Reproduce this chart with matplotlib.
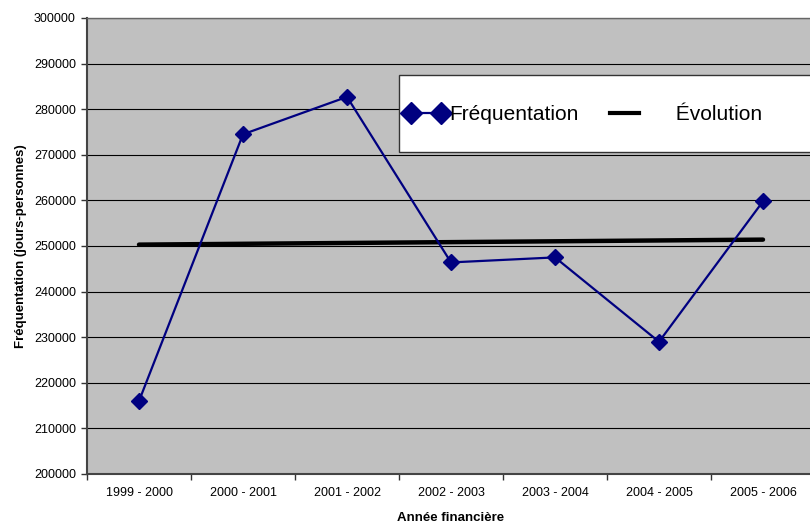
import matplotlib.pyplot as plt
from matplotlib.lines import Line2D
from matplotlib.patches import Rectangle

plt.rcParams['font.family'] = ['Liberation Sans', 'DejaVu Sans']

# Données
annees = ["1999 - 2000", "2000 - 2001", "2001 - 2002", "2002 - 2003",
          "2003 - 2004", "2004 - 2005", "2005 - 2006"]
frequentation = [216000, 274500, 282700, 246400, 247500, 229000, 259800]
evolution_debut_fin = [250300, 251400]   # courbe de tendance
y_ticks = list(range(200000, 300001, 10000))

fig = plt.figure(figsize=(8.1, 5.23), dpi=100)
ax = fig.add_axes([87 / 810, 1 - 474 / 523, 728 / 810, 456 / 523])
ax.set_facecolor('#c0c0c0')

x = list(range(len(annees)))
ax.plot(x, frequentation, color='#000080', lw=1.6, marker='D', markersize=8,
        markerfacecolor='#000080', markeredgecolor='#000080', zorder=3)
ax.plot([x[0], x[-1]], evolution_debut_fin, color='black', lw=3.2,
        solid_capstyle='round', zorder=2)

ax.set_xlim(-0.5, len(annees) - 0.5)
ax.set_ylim(200000, 300000)
ax.set_yticks(y_ticks)
ax.set_yticklabels([str(v) for v in y_ticks], fontsize=9)
ax.yaxis.grid(True, color='black', lw=0.8)
ax.set_axisbelow(True)

# ticks entre les catégories
ax.set_xticks([i - 0.5 for i in range(len(annees) + 1)])
ax.set_xticklabels([])
ax.set_xticks(x, minor=True)
ax.set_xticklabels(annees, minor=True, fontsize=9)
ax.tick_params(axis='x', which='minor', length=0, pad=9)
ax.tick_params(axis='x', which='major', length=4, width=1, color='#333333', direction='out')
ax.tick_params(axis='y', length=4, width=1, color='#333333', pad=4)

for side in ['left', 'bottom']:
    ax.spines[side].set_color('#444444')
    ax.spines[side].set_linewidth(1.5)
ax.spines['top'].set_color('#666666')
ax.spines['top'].set_linewidth(1)
ax.spines['right'].set_visible(False)

ax.set_xlabel('Année financière', fontsize=9.5, fontweight='bold', labelpad=10)
ax.set_ylabel('Fréquentation (jours-personnes)', fontsize=9.5, fontweight='bold', labelpad=5)

# cadre de la légende (déborde à droite comme l'original)
fig.patches.append(Rectangle((399 / 810, 1 - 152 / 523), 420 / 810, 77 / 523,
                             transform=fig.transFigure, facecolor='white',
                             edgecolor='#333333', lw=1, zorder=5))

handles = [
    Line2D([], [], color='#000080', lw=1.6, marker='D', markersize=11),
    Line2D([], [], color='black', lw=3),
]
leg = fig.legend(handles, ['Fréquentation', '     Évolution'], ncol=2,
                 loc='center left', bbox_to_anchor=(402 / 810, 1 - 115 / 523),
                 fontsize=15, frameon=False, numpoints=2, handlelength=2.0,
                 handletextpad=0.1, columnspacing=1.2, borderpad=0.15,
                 borderaxespad=0)
leg.set_zorder(6)

fig.savefig('out.png', dpi=100)
